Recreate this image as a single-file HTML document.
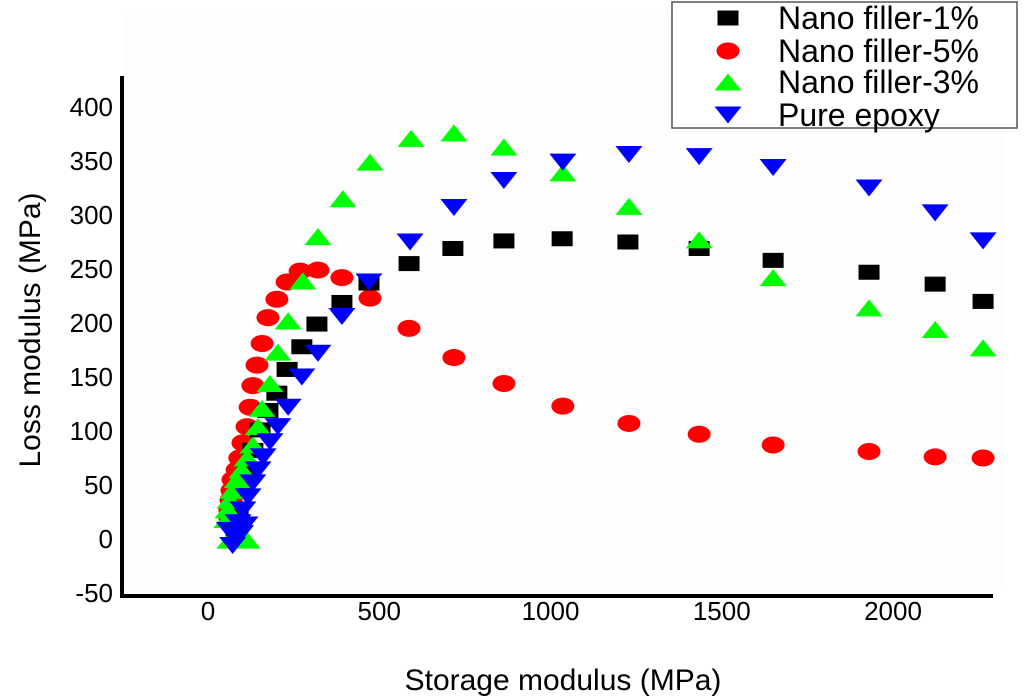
<!DOCTYPE html>
<html><head><meta charset="utf-8"><style>
html,body{margin:0;padding:0;background:#fff;}
svg{display:block;font-family:"Liberation Sans",Arial,sans-serif;}
</style></head><body>
<svg id="chart" width="1024" height="699" viewBox="0 0 1024 699" xmlns="http://www.w3.org/2000/svg">
<rect x="0" y="0" width="1024" height="699" fill="#fff"/>
<rect x="125" y="10" width="880" height="580" fill="#fdfdfd"/>
<g id="marks"></g>
<g id="axes"></g>
<text x="563" y="690" font-size="30" text-anchor="middle">Storage modulus (MPa)</text>
<text transform="translate(40,330) rotate(-90)" font-size="30" text-anchor="middle">Loss modulus (MPa)</text>
<g>
<rect x="672" y="2" width="345" height="126" fill="#fff" stroke="#555" stroke-width="1.5"/>
<g id="legend-items"></g>
</g>
</svg>
<script>
const xTicks = [0, 500, 1000, 1500, 2000];
const yTicks = [-50, 0, 50, 100, 150, 200, 250, 300, 350, 400];
const seriesNames = ["Nano filler-1%", "Nano filler-5%", "Nano filler-3%", "Pure epoxy"];
const f1X = [2263,2123,1930,1650,1434,1226,1034,864,715,587,470,391,318,274,231,201,175,152,131,114,99,88,82];
const f1Y = [220,236,247,258,269,275,278,276,269,255,237,219,199,178,157,135,119,101,82,64,45,27,8];
const f5X = [2263,2123,1930,1650,1434,1229,1036,864,718,587,473,391,321,269,231,201,175,158,143,131,123,114,102,93,85,73,70,67,64,64];
const f5Y = [75,76,81,87,97,107,123,144,168,195,223,242,249,248,238,222,205,181,161,142,122,104,89,75,64,55,45,36,27,19];
const f3X = [2263,2123,1930,1650,1434,1229,1036,864,718,593,473,394,321,277,234,204,181,158,146,131,114,99,85,73,64,58,55,64,114];
const f3Y = [177,194,214,242,277,308,339,363,376,371,349,315,280,239,202,173,144,121,104,87,75,64,55,45,36,27,18,-1,-1];
const peX = [2263,2123,1930,1650,1434,1229,1036,864,718,590,470,391,321,274,234,204,181,161,146,131,117,102,88,79,62,108,72,95];
const peY = [276,302,325,344,354,356,349,332,307,275,238,206,172,150,122,104,90,76,64,52,39,27,15,2,8,13,-6,5];

const NS = "http://www.w3.org/2000/svg";
function xs(v){ return 208 + v*0.3425; }
function ys(v){ return 539 - v*1.08; }
function mk(tag, attrs, parent){
  const e = document.createElementNS(NS, tag);
  for (const k in attrs) e.setAttribute(k, attrs[k]);
  parent.appendChild(e); return e;
}
function marker(kind, cx, cy, parent){
  let e;
  if (kind === 0) e = mk("rect", {x:cx-10.5, y:cy-7.5, width:21, height:15, fill:"#000"}, parent);
  else if (kind === 1) e = mk("ellipse", {cx:cx, cy:cy, rx:11.5, ry:8.5, fill:"#f00"}, parent);
  else if (kind === 2) e = mk("polygon", {points:(cx-13.5)+","+(cy+8.5)+" "+(cx+13.5)+","+(cy+8.5)+" "+cx+","+(cy-8.5), fill:"#0f0"}, parent);
  else e = mk("polygon", {points:(cx-13.5)+","+(cy-8.5)+" "+(cx+13.5)+","+(cy-8.5)+" "+cx+","+(cy+8.5), fill:"#00f"}, parent);
  return e;
}
const marks = document.getElementById("marks");
const series = [[f5X,f5Y,1,"nano-5"],[f1X,f1Y,0,"nano-1"],[f3X,f3Y,2,"nano-3"],[peX,peY,3,"pure-epoxy"]];
series.forEach(s => {
  const g = mk("g", {}, marks);
  
  
  s[0].forEach((v,i) => {
    const e = marker(s[2], xs(v), ys(s[1][i]), g);
    
    
  });
});
const axes = document.getElementById("axes");
const yl = mk("line", {x1:122, y1:76, x2:122, y2:597, stroke:"#000", "stroke-width":4}, axes);


const xl = mk("line", {x1:120, y1:596, x2:993, y2:596, stroke:"#000", "stroke-width":4}, axes);


xTicks.forEach(t => {
  const e = mk("text", {x:xs(t), y:620, "font-size":26, "text-anchor":"middle"}, axes);
  e.textContent = t;
  
  
});
yTicks.forEach(t => {
  const e = mk("text", {x:113, y:ys(t)+9, "font-size":26, "text-anchor":"end"}, axes);
  e.textContent = t;
  
  
});
const leg = document.getElementById("legend-items");
const legOrder = [0,1,2,3];
const legY = [18, 51, 82, 115];
legOrder.forEach((k,i) => {
  const g = mk("g", {}, leg);
  
  
  marker(k, 728, legY[i], g);
  const t = mk("text", {x:778, y:legY[i]+11, "font-size":32}, g);
  t.textContent = seriesNames[k];
});
</script>
</body></html>
